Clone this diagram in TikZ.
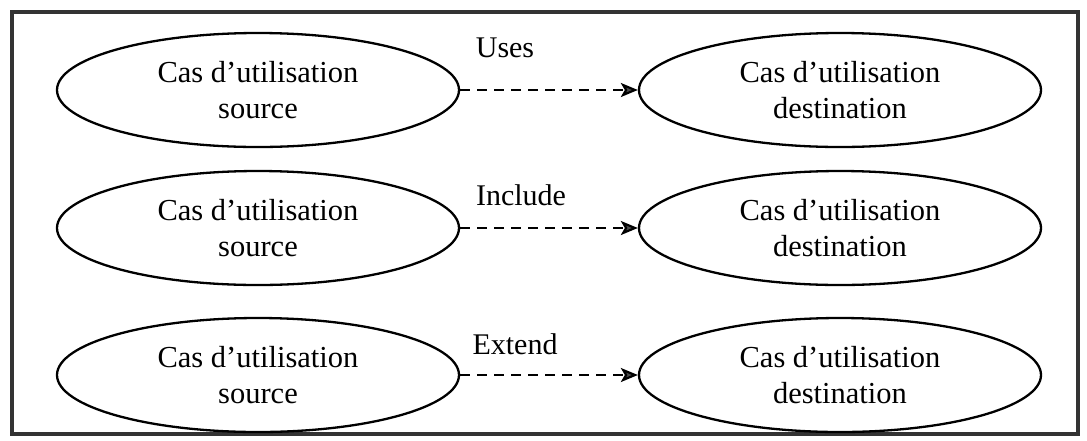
\documentclass[tikz,border=0pt]{standalone}
\usepackage{fontspec}
\setmainfont{Liberation Serif}
\usetikzlibrary{shapes.geometric,arrows.meta}
\begin{document}
\begin{tikzpicture}[x=1pt,y=-1pt,
  uc/.style={draw,line width=2.3pt,ellipse,minimum width=402pt,minimum height=114pt,inner sep=0pt,align=center,font=\fontsize{30.5}{36}\selectfont},
  lbl/.style={font=\fontsize{30}{36}\selectfont},
  dep/.style={line width=2.2pt,dash pattern=on 10pt off 7pt,-{Stealth[length=17pt,width=14pt,inset=4pt,fill=black!70]}}]
\useasboundingbox (0,0) rectangle (1087,440);
\draw[line width=3.5pt,black!80] (12,12) rectangle (1078,434);
\node[uc] (s1) at (258,90) {Cas d’utilisation\\source};
\node[uc] (d1) at (840,90) {Cas d’utilisation\\destination};
\node[uc] (s2) at (258,228) {Cas d’utilisation\\source};
\node[uc] (d2) at (840,228) {Cas d’utilisation\\destination};
\node[uc] (s3) at (258,375) {Cas d’utilisation\\source};
\node[uc] (d3) at (840,375) {Cas d’utilisation\\destination};
\draw[dep] (s1) -- (d1);
\draw[dep] (s2) -- (d2);
\draw[dep] (s3) -- (d3);
\node[lbl] (l1) at (505,48) {Uses};
\node[lbl] (l2) at (521,195) {Include};
\node[lbl] (l3) at (515,344) {Extend};
\end{tikzpicture}
\end{document}
